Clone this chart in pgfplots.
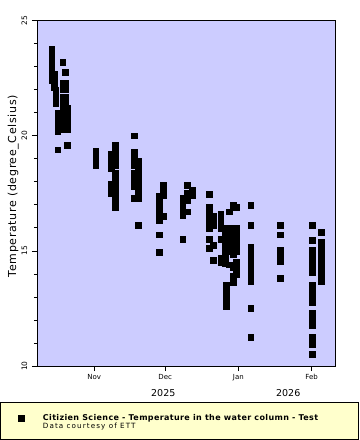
\documentclass[border=0pt]{standalone}
\usepackage{pgfplots}
\pgfplotsset{compat=1.18}
\usepackage{fontspec}
\setmainfont{DejaVu Sans}
\definecolor{plotbg}{HTML}{CCCCFF}
\definecolor{legbg}{HTML}{FFFFCC}
\begin{document}
\begin{tikzpicture}
\filldraw[fill=legbg, draw=black, line width=0.8bp] (-36.5bp,-36.5bp) rectangle (321.5bp,-73.3bp);
\begin{axis}[
  at={(0,0)}, anchor=south west,
  scale only axis, width=298bp, height=345.3bp,
  xmin=-24.25, xmax=101.9, ymin=10, ymax=25,
  clip mode=individual,
  axis background/.style={fill=plotbg},
  axis line style={line width=0.8bp},
  tick pos=left, tick align=outside,
  major tick length=5bp, minor tick length=3bp,
  every tick/.style={black, line width=0.8bp},
  xtick={0,30,61,92}, xticklabels={Nov,Dec,Jan,Feb},
  ytick={10,15,20,25}, minor y tick num=4,
  /pgf/number format/assume math mode=true,
  xticklabel style={font=\fontsize{7bp}{8bp}\selectfont, anchor=base, inner sep=0pt, yshift=-8bp},
  yticklabel style={font=\fontsize{7.5bp}{8bp}\selectfont, rotate=90, anchor=center, inner sep=0pt, yshift=7.5bp},
  ylabel={\addfontfeature{LetterSpace=6}Temperature (degree\_Celsius)},
  ylabel style={font=\fontsize{11bp}{13bp}\selectfont, at={(axis description cs:-0.0795,0.521)}, anchor=center},
  legend style={at={(axis description cs:-0.1248,-0.0646)}, anchor=north west,
    draw=none, fill=none, inner xsep=0pt, inner ysep=0pt,
    column sep=0pt, nodes={inner sep=0pt}},
  legend cell align=left,
  legend image code/.code={\path[draw=none, fill=none] (-21.5bp,-30bp) rectangle (21.4bp,30bp);
    \draw[#1] plot coordinates {(0bp,0bp)};},
]
\addplot[only marks, mark=square*, mark size=2.9bp, mark options={fill=black, draw=black, line width=0.4bp}] table {
x y
-18.0 23.75
-18.0 23.55
-18.0 23.35
-18.0 23.15
-18.0 22.95
-18.0 22.8
-18.0 22.6
-18.0 22.4
-17.1 22.7
-17.1 22.5
-17.1 22.3
-17.1 22.1
-16.3 22.0
-16.3 21.8
-16.3 21.6
-16.3 21.4
-15.5 21.0
-15.5 20.8
-15.5 20.6
-15.5 20.4
-15.5 20.2
-15.5 19.4
-13.4 23.2
-13.4 22.3
-13.4 22.0
-13.4 21.7
-13.4 21.4
-13.4 21.1
-13.4 20.8
-13.4 20.5
-13.4 20.3
-12.4 22.75
-12.4 22.3
-12.4 22.0
-12.4 21.7
-12.4 21.4
-12.4 21.1
-12.4 20.9
-12.4 20.6
-11.3 21.2
-11.3 20.9
-11.3 20.6
-11.3 20.3
-11.3 19.6
0.6 19.35
0.6 19.15
0.6 18.95
0.6 18.7
7.1 19.2
7.1 19.0
7.1 18.8
7.1 18.6
7.1 17.9
7.1 17.7
7.1 17.5
8.8 19.6
8.8 19.3
8.8 19.0
8.8 18.7
8.8 18.4
8.8 18.1
8.8 17.8
8.8 17.5
8.8 17.2
8.8 16.9
16.8 20.0
16.8 19.3
16.8 19.0
16.8 18.7
16.8 18.4
16.8 18.2
16.8 17.9
16.8 17.8
16.8 17.3
18.5 18.9
18.5 18.6
18.5 18.3
18.5 18.0
18.5 17.7
18.5 17.5
18.5 17.3
18.5 16.1
27.4 17.4
27.4 17.15
27.4 16.9
27.4 16.6
27.4 16.35
27.4 15.7
27.4 14.95
29.2 17.85
29.2 17.6
29.2 17.4
29.2 16.5
37.4 17.3
37.4 17.0
37.4 16.8
37.4 16.55
37.4 15.5
39.4 17.85
39.4 17.5
39.4 17.2
39.4 16.7
41.5 17.65
41.5 17.4
48.5 17.48
48.5 16.9
48.5 16.6
48.5 16.4
48.5 16.2
48.5 16.0
48.5 15.5
48.5 15.1
50.5 16.5
50.5 16.3
50.5 16.1
50.5 15.25
50.5 14.6
53.5 16.6
53.5 16.4
53.5 16.2
53.5 16.0
53.5 15.5
53.5 14.7
53.5 14.5
55.5 16.0
55.5 15.75
55.5 15.5
55.5 15.25
55.5 15.0
55.5 14.7
55.5 14.45
56.0 13.5
56.0 13.2
56.0 12.9
56.0 12.6
57.2 16.0
57.2 15.75
57.2 15.5
57.2 15.25
57.2 15.0
57.2 14.4
57.2 16.7
58.7 16.0
58.7 15.7
58.7 15.4
58.7 15.1
58.7 14.85
58.7 14.3
58.7 13.9
58.7 13.65
58.7 17.0
60.0 16.0
60.0 15.75
60.0 15.5
60.0 15.25
60.0 15.0
60.0 14.5
60.0 14.2
60.0 14.0
60.0 16.9
66.2 17.0
66.2 16.1
66.2 15.15
66.2 14.9
66.2 14.65
66.2 14.4
66.2 14.15
66.2 13.9
66.2 13.7
66.2 12.52
66.2 11.26
78.6 16.1
78.6 15.7
78.6 15.05
78.6 14.8
78.6 14.55
78.6 13.8
92.3 16.1
92.3 15.47
92.3 15.05
92.3 14.85
92.3 14.55
92.3 14.35
92.3 14.05
92.3 13.5
92.3 13.25
92.3 13.0
92.3 12.75
92.3 12.3
92.3 12.0
92.3 11.75
92.3 11.26
92.3 10.96
92.3 10.53
96.2 15.8
96.2 15.4
96.2 15.15
96.2 14.9
96.2 14.7
96.2 14.45
96.2 14.2
96.2 13.95
96.2 13.7
};
\addlegendentry{\parbox[t]{316bp}{\baselineskip=6.3bp\fontsize{8bp}{6.3bp}\selectfont\addfontfeature{LetterSpace=4.6}\textbf{Citizien Science - Temperature in the water column - Test}\\\fontsize{7.2bp}{6.3bp}\selectfont\addfontfeature{LetterSpace=15}Data courtesy of ETT}}
\node[font=\fontsize{9.5bp}{11bp}\selectfont, anchor=base, yshift=-30bp] at (axis cs:29.2,10) {2025};
\node[font=\fontsize{9.5bp}{11bp}\selectfont, anchor=base, yshift=-30bp] at (axis cs:82.1,10) {2026};
\end{axis}
\pgfresetboundingbox
\path[use as bounding box] (-37bp,-74bp) rectangle (323bp,366bp);
\end{tikzpicture}
\end{document}
